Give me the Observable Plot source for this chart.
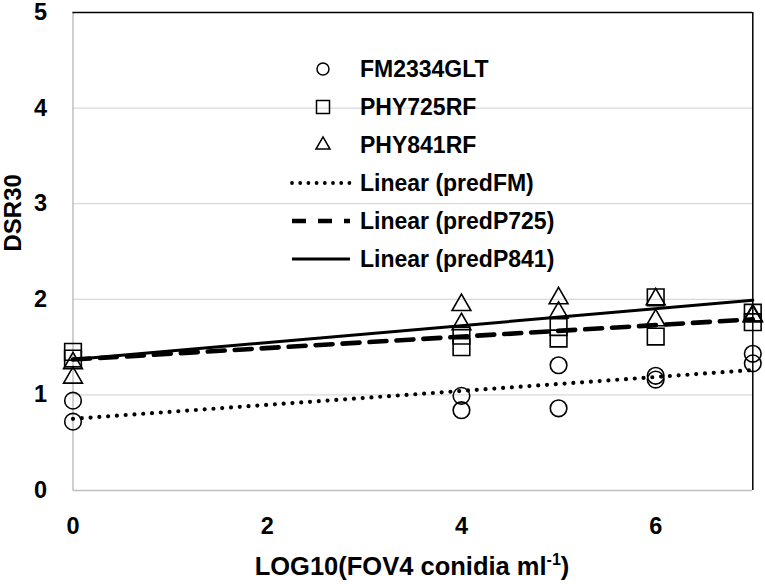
<!DOCTYPE html>
<html>
<head>
<meta charset="utf-8">
<script src="https://cdn.jsdelivr.net/npm/d3@7"></script>
<script src="https://cdn.jsdelivr.net/npm/@observablehq/plot@0.6"></script>
<style>
  html, body { margin: 0; padding: 0; background: white; }
</style>
</head>
<body>
<div id="chart"></div>
<script>
// ---- data ----
const doses = [0, 4, 5, 6, 7];
const fmRep1   = [0.94, 0.99, 1.31, 1.20, 1.43];
const fmRep2   = [0.72, 0.84, 0.86, 1.16, 1.33];
const p725Rep1 = [1.45, 1.62, 1.71, 2.02, 1.86];
const p725Rep2 = [1.38, 1.50, 1.59, 1.61, 1.76];
const p841Rep1 = [1.33, 1.94, 2.01, 2.00, 1.83];
const p841Rep2 = [1.18, 1.74, 1.86, 1.78, 1.82];

const trendX   = [0, 7];
const predFM   = [0.75, 1.26];
const predP725 = [1.37, 1.79];
const predP841 = [1.37, 1.99];

const xTicks = [0, 2, 4, 6];
const yTicks = [0, 1, 2, 3, 4, 5];
const gridTicks = [1, 2, 3, 4];

const legendLabels = ["FM2334GLT", "PHY725RF", "PHY841RF", "Linear (predFM)", "Linear (predP725)", "Linear (predP841)"];
const xTitle = "LOG10(FOV4 conidia ml";
const xTitleSup = "-1";
const yTitle = "DSR30";

// ---- tables ----
const pts = (reps) => reps.flatMap(r => doses.map((x, i) => ({x, y: r[i]})));
const fmPts = pts([fmRep1, fmRep2]);
const p725Pts = pts([p725Rep1, p725Rep2]);
const p841Pts = pts([p841Rep1, p841Rep2]);
const line = (vals) => trendX.map((x, i) => ({x, y: vals[i]}));

const FONT = "Liberation Sans, Arial, Helvetica, sans-serif";

const plot = Plot.plot({
  width: 765,
  height: 584,
  marginLeft: 72.5,
  marginRight: 12.7,
  marginTop: 12,
  marginBottom: 94,
  x: {domain: [0, 7]},
  y: {domain: [0, 5]},
  style: {fontFamily: FONT, background: "white", color: "black"},
  marks: [
    Plot.gridY(gridTicks, {stroke: "#d9d9d9", strokeOpacity: 1, strokeWidth: 1.3}),
    Plot.ruleX([0], {stroke: "#bfbfbf", strokeWidth: 1.5}),
    Plot.ruleY([0], {stroke: "#bfbfbf", strokeWidth: 1.5}),
    Plot.ruleY([5], {stroke: "black", strokeWidth: 1.5}),
    Plot.ruleX([7], {stroke: "black", strokeWidth: 1.5}),
    Plot.line(line(predFM), {x: "x", y: "y", stroke: "black", strokeWidth: 4.2, strokeDasharray: "0 8.8", strokeLinecap: "round"}),
    Plot.line(line(predP725), {x: "x", y: "y", stroke: "black", strokeWidth: 4.6, strokeDasharray: "17 10"}),
    Plot.line(line(predP841), {x: "x", y: "y", stroke: "black", strokeWidth: 3}),
    Plot.dot(fmPts, {x: "x", y: "y", symbol: "circle", r: 8.3, stroke: "black", strokeWidth: 1.6, fill: "none"}),
    Plot.dot(p725Pts, {x: "x", y: "y", symbol: "square", r: 9.4, stroke: "black", strokeWidth: 1.6, fill: "none"}),
    Plot.dot(p841Pts, {x: "x", y: "y", symbol: "triangle", r: 7, stroke: "black", strokeWidth: 1.6, fill: "none"}),
    Plot.axisX({ticks: xTicks, tickFormat: d3.format("d"), tickSize: 0, tickPadding: 27, fontSize: 23.5, fontWeight: "bold", label: null}),
    Plot.axisY({ticks: yTicks, tickFormat: d3.format("d"), tickSize: 0, tickPadding: 26, fontSize: 23.5, fontWeight: "bold", label: null}),
    Plot.text([yTitle], {frameAnchor: "left", rotate: -90, dx: -60, fontSize: 24, fontWeight: "bold", lineAnchor: "middle"})
  ]
});

document.getElementById("chart").appendChild(plot);

// ---- x title with superscript ----
const svg = d3.select(plot);
const t = svg.append("text")
  .attr("x", 412).attr("y", 575)
  .attr("text-anchor", "middle")
  .attr("font-family", FONT).attr("font-size", 25.5).attr("font-weight", "bold")
  .attr("fill", "black");
t.append("tspan").text(xTitle);
t.append("tspan").attr("font-size", 16).attr("dy", -10).text(xTitleSup);
t.append("tspan").attr("dy", 10).text(")");

// ---- legend ----
const L = {symX: 323, lineX0: 292, lineX1: 350, textX: 360, y0: 69, dy: 38};
const g = svg.append("g").attr("font-family", FONT).attr("font-size", 23).attr("font-weight", "bold").attr("text-anchor", "start");
const symTypes = [d3.symbolCircle, d3.symbolSquare, d3.symbolTriangle];
const symSizes = [Math.PI * 6 * 6, 13 * 13, Math.PI * 5.2 * 5.2];
const dashes = [{w: 3.8, d: "0 8.2", cap: "round"}, {w: 4.6, d: "14 12", cap: "butt"}, {w: 3, d: null, cap: "butt"}];
legendLabels.forEach((lab, i) => {
  const y = L.y0 + i * L.dy;
  if (i < 3) {
    g.append("path")
      .attr("transform", `translate(${L.symX},${y})`)
      .attr("d", d3.symbol().type(symTypes[i]).size(symSizes[i])())
      .attr("fill", "none").attr("stroke", "black").attr("stroke-width", 1.5);
  } else {
    const s = dashes[i - 3];
    const ln = g.append("line")
      .attr("x1", L.lineX0).attr("x2", L.lineX1).attr("y1", y).attr("y2", y)
      .attr("stroke", "black").attr("stroke-width", s.w).attr("stroke-linecap", s.cap);
    if (s.d) ln.attr("stroke-dasharray", s.d);
  }
  g.append("text").attr("x", L.textX).attr("y", y).attr("dy", "0.36em").attr("text-anchor", "start").attr("fill", "black").text(lab);
});
</script>
</body>
</html>
